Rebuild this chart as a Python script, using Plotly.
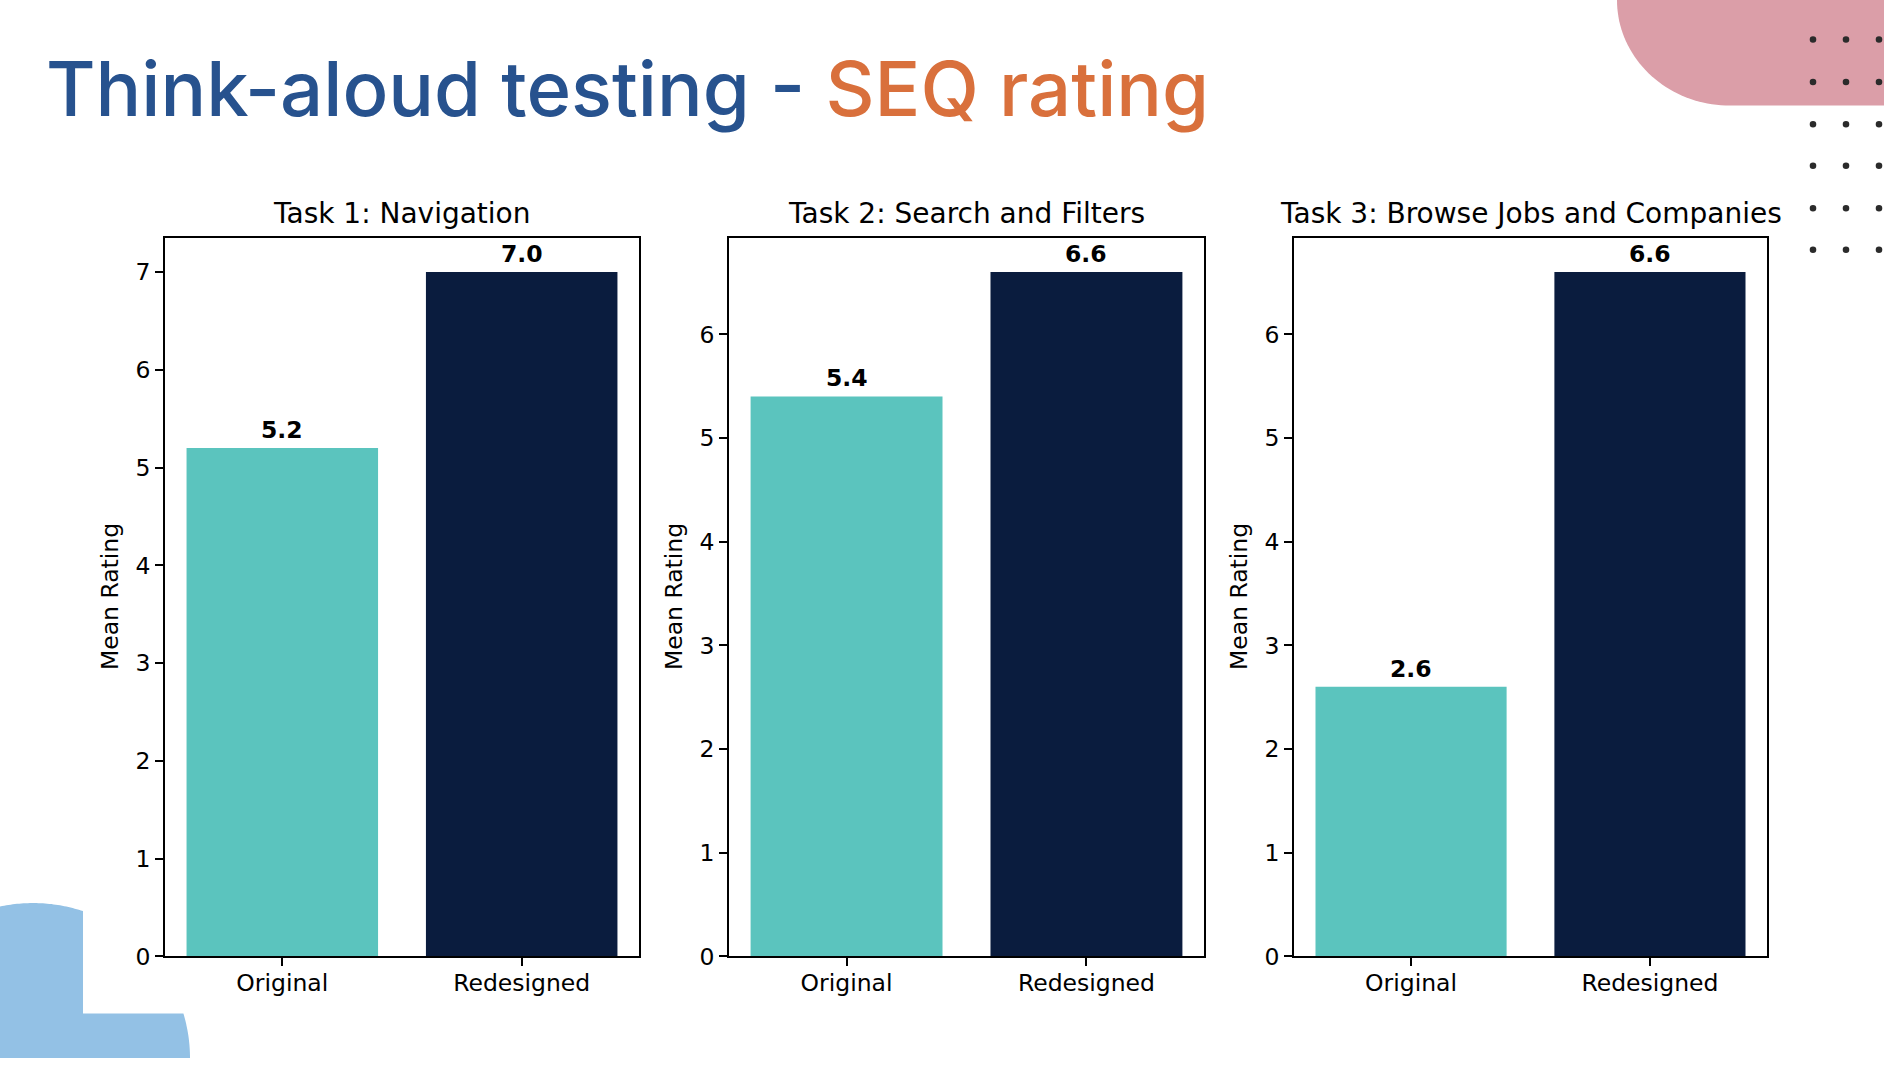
import numpy as np
import plotly.graph_objects as go

W, H = 1884, 1072

# data
tasks = ["Task 1: Navigation", "Task 2: Search and Filters", "Task 3: Browse Jobs and Companies"]
versions = ["Original", "Redesigned"]
original = [5.2, 5.4, 2.6]
redesigned = [7.0, 6.6, 6.6]

bar_colors = ["#5BC4BE", "#0A1C3E"]
title_blue = "#27528E"
title_orange = "#D9703C"


def px(x):
    return x / W


def py(y):
    return 1 - y / H


# pixel boxes of the three panels (left, right), shared top / bottom
boxes_x = [(165, 639), (729, 1204), (1294, 1767)]
box_top, box_bottom = 241, 969

tick_font = dict(family="DejaVu Sans", size=23.5, color="black")

fig = go.Figure()
annotations = []
layout_axes = {}

for i, task in enumerate(tasks):
    n = "" if i == 0 else str(i + 1)
    vals = [original[i], redesigned[i]]
    fig.add_trace(go.Bar(
        x=versions, y=vals, width=0.8,
        marker=dict(color=bar_colors, line=dict(width=0)),
        xaxis="x" + n, yaxis="y" + n,
        showlegend=False, hoverinfo="skip",
    ))

    x0, x1 = boxes_x[i]
    common = dict(showline=True, mirror=True, linecolor="black", linewidth=1.9,
                  ticks="outside", ticklen=8, tickwidth=1.9, tickcolor="black",
                  tickfont=tick_font, showgrid=False, zeroline=False, fixedrange=True)
    layout_axes["xaxis" + n] = dict(domain=[px(x0), px(x1)], range=[-0.49, 1.49],
                                    anchor="y" + n, type="category",
                                    ticklabelstandoff=-3, **common)
    layout_axes["yaxis" + n] = dict(domain=[py(box_bottom), py(box_top)],
                                    range=[0, max(vals) * 1.05], dtick=1, tick0=0,
                                    anchor="x" + n, **common)

    # panel title
    annotations.append(dict(
        x=px((x0 + x1) / 2), y=py(box_top), xref="paper", yref="paper",
        xanchor="center", yanchor="bottom", yshift=6, showarrow=False,
        text=task, font=dict(family="DejaVu Sans", size=28, color="black")))
    # y axis title
    annotations.append(dict(
        x=px(x0 - 55), y=py((box_top + box_bottom) / 2), xref="paper", yref="paper",
        xanchor="center", yanchor="middle", textangle=-90, showarrow=False,
        text="Mean Rating", font=tick_font))
    # value labels
    for v_name, v in zip(versions, vals):
        annotations.append(dict(
            x=v_name, y=v, xref="x" + n, yref="y" + n,
            xanchor="center", yanchor="bottom", yshift=2, showarrow=False,
            text=f"<b>{v:.1f}</b>", font=dict(family="DejaVu Sans", size=23.5, color="black")))

# slide title
annotations.append(dict(
    x=px(44), y=py(138), xref="paper", yref="paper",
    xanchor="left", yanchor="bottom", showarrow=False,
    text=f"<span style='color:{title_blue}'>Think-aloud testing - </span>"
         f"<span style='color:{title_orange}'>SEQ rating</span>",
    font=dict(family="Inter", size=76, weight=500, color=title_blue)))

# decorative shapes
shapes = []

# pink block, top right, rounded lower-left corner
t = np.linspace(0, np.pi / 2, 40)
pink_pts = [(1730 - 113 * np.cos(a), 107 * np.sin(a)) for a in t]
pink_pts += [(W, 107), (W, 0)]
path = "M " + " L ".join(f"{px(x):.5f},{py(y):.5f}" for x, y in pink_pts) + " Z"
shapes.append(dict(type="path", path=path, xref="paper", yref="paper",
                   fillcolor="#DB9EA8", line=dict(width=0), layer="below"))

# light blue blob, bottom left
cx, cy, r = 33, 1072, 157
a_left = np.arccos((0 - cx) / r)
a_cut = np.arccos((83 - cx) / r)
upper = np.linspace(a_left, a_cut, 40)
blue_pts = [(0, H)]
blue_pts += [(cx + r * np.cos(a), cy - r * np.sin(a)) for a in upper]
blue_pts += [(83, 1027)]
a_low = np.arcsin((cy - 1027) / r)
lower = np.linspace(a_low, 0, 30)
blue_pts += [(cx + r * np.cos(a), cy - r * np.sin(a)) for a in lower]
path = "M " + " L ".join(f"{px(x):.5f},{py(y):.5f}" for x, y in blue_pts) + " Z"
shapes.append(dict(type="path", path=path, xref="paper", yref="paper",
                   fillcolor="#93C1E5", line=dict(width=0), layer="below"))

# dot grid
dot_x = [1813, 1846, 1879]
dot_y = [40, 83, 126, 168, 211, 253]
rd = 3.3
for dx in dot_x:
    for dy in dot_y:
        shapes.append(dict(type="circle", xref="paper", yref="paper",
                           x0=px(dx - rd), x1=px(dx + rd), y0=py(dy + rd), y1=py(dy - rd),
                           fillcolor="#2B2B2B", line=dict(width=0), layer="above"))

fig.update_layout(
    width=W, height=H,
    margin=dict(l=0, r=0, t=0, b=0),
    paper_bgcolor="white", plot_bgcolor="white",
    font=dict(family="DejaVu Sans", color="black"),
    showlegend=False,
    annotations=annotations,
    shapes=shapes,
    **layout_axes,
)

# page body has a default 8px margin; drop it so the figure fills the window
fig.write_html("out.html", config={"displayModeBar": False},
               post_script="document.body.style.margin='0';")
